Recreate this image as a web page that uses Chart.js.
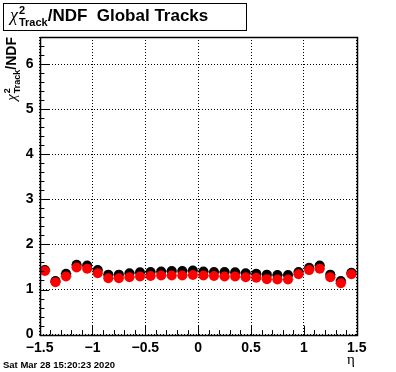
<!DOCTYPE html>
<html>
<head>
<meta charset="utf-8">
<script src="https://cdn.jsdelivr.net/npm/chart.js@4.4.1/dist/chart.umd.min.js"></script>
<style>
  html, body { margin: 0; padding: 0; background: #fff; }
  canvas { display: block; }
</style>
</head>
<body>
<canvas id="chart" width="396" height="372"></canvas>
<script>
// bin centres in eta (30 bins of 0.1)
const etaBins = [-1.45, -1.35, -1.25, -1.15, -1.05, -0.95, -0.85, -0.75, -0.65, -0.55,
                 -0.45, -0.35, -0.25, -0.15, -0.05, 0.05, 0.15, 0.25, 0.35, 0.45,
                 0.55, 0.65, 0.75, 0.85, 0.95, 1.05, 1.15, 1.25, 1.35, 1.45];
const chi2Black = [1.43, 1.19, 1.35, 1.55, 1.53, 1.43, 1.33, 1.33, 1.36, 1.38,
                   1.39, 1.40, 1.41, 1.41, 1.42, 1.40, 1.39, 1.39, 1.38, 1.36,
                   1.35, 1.33, 1.32, 1.32, 1.39, 1.48, 1.53, 1.33, 1.19, 1.37];
const chi2Red = [1.41, 1.16, 1.29, 1.49, 1.46, 1.36, 1.25, 1.25, 1.27, 1.29,
                 1.30, 1.31, 1.31, 1.31, 1.32, 1.31, 1.30, 1.29, 1.29, 1.27,
                 1.26, 1.23, 1.22, 1.22, 1.34, 1.43, 1.46, 1.27, 1.14, 1.34];
const binHalfWidth = 0.05;
const xTicks = [-1.5, -1, -0.5, 0, 0.5, 1, 1.5];
const yTicks = [0, 1, 2, 3, 4, 5, 6];
const xMinorStep = 0.1;
const yMinorStep = 0.2;
const dateText = 'Sat Mar 28 15:20:23 2020';

const MARKER_R = 5;
const FONT = '"Liberation Sans", Arial, Helvetica, sans-serif';

function fmtTick(v) {
    return v < 0 ? '\u2212' + Math.abs(v) : String(v);
}

// draws  chi^2_Track + rest, starting at x (baseline y)
function drawChiTitle(ctx, x, y, size, rest) {
    ctx.font = 'italic ' + (size + 1) + 'px "Liberation Serif", serif';
    ctx.fillText('\u03c7', x, y);
    x += ctx.measureText('\u03c7').width + 1;
    const small = Math.round(size * 0.62);
    ctx.font = 'bold ' + small + 'px ' + FONT;
    ctx.fillText('2', x, y - size * 0.42);
    ctx.fillText('Track', x, y + size * 0.3);
    x += ctx.measureText('Track').width;
    ctx.font = 'bold ' + size + 'px ' + FONT;
    ctx.fillText(rest, x, y);
    return x + ctx.measureText(rest).width;
}

function chiTitleWidth(ctx, size, rest) {
    ctx.font = 'italic ' + (size + 1) + 'px "Liberation Serif", serif';
    let w = ctx.measureText('\u03c7').width + 1;
    ctx.font = 'bold ' + Math.round(size * 0.62) + 'px ' + FONT;
    w += ctx.measureText('Track').width;
    ctx.font = 'bold ' + size + 'px ' + FONT;
    return w + ctx.measureText(rest).width;
}

// horizontal error bars, broken around the marker (ROOT style)
const errorBars = {
    id: 'errorBars',
    beforeDatasetDraw(chart, args) {
        const ctx = chart.ctx;
        const xs = chart.scales.x;
        ctx.save();
        ctx.strokeStyle = '#000';
        ctx.lineWidth = 1.5;
        args.meta.data.forEach((pt, i) => {
            const x0 = xs.getPixelForValue(etaBins[i] - binHalfWidth);
            const x1 = xs.getPixelForValue(etaBins[i] + binHalfWidth);
            ctx.beginPath();
            ctx.moveTo(x0, pt.y);
            ctx.lineTo(pt.x - MARKER_R, pt.y);
            ctx.moveTo(pt.x + MARKER_R, pt.y);
            ctx.lineTo(x1, pt.y);
            ctx.stroke();
        });
        ctx.restore();
    }
};

// frame, inner ticks and texts
const decorations = {
    id: 'decorations',
    afterDraw(chart) {
        const ctx = chart.ctx;
        const a = chart.chartArea;
        const xs = chart.scales.x;
        const ys = chart.scales.y;
        ctx.save();
        ctx.strokeStyle = '#000';
        ctx.lineWidth = 1;

        // ticks on the left axis
        ctx.beginPath();
        for (let v = 0; v <= ys.max + 1e-6; v += yMinorStep) {
            const major = Math.abs(v - Math.round(v)) < 1e-6;
            const py = Math.round(ys.getPixelForValue(v)) + 0.5;
            ctx.moveTo(a.left, py);
            ctx.lineTo(a.left + (major ? 9.5 : 4.8), py);
        }
        // ticks on the bottom axis
        for (let v = xs.min; v <= xs.max + 1e-6; v += xMinorStep) {
            const major = Math.abs(v * 2 - Math.round(v * 2)) < 1e-6;
            const px = Math.round(xs.getPixelForValue(v)) + 0.5;
            ctx.moveTo(px, a.bottom);
            ctx.lineTo(px, a.bottom - (major ? 9 : 4.5));
        }
        ctx.stroke();

        // frame
        ctx.lineWidth = 1.5;
        ctx.strokeRect(Math.round(a.left) + 0.5, Math.round(a.top) + 0.5,
                       Math.round(a.right - a.left), Math.round(a.bottom - a.top));

        // title box
        ctx.lineWidth = 1;
        ctx.fillStyle = '#fff';
        ctx.fillRect(3, 3, 244, 28);
        ctx.strokeRect(3.5, 3.5, 243, 27);
        ctx.fillStyle = '#000';
        ctx.textBaseline = 'alphabetic';
        ctx.textAlign = 'left';
        drawChiTitle(ctx, 10, 21, 17, '/NDF  Global Tracks');

        // y axis title, rotated, aligned to the top of the frame
        ctx.save();
        ctx.translate(16, a.top);
        ctx.rotate(-Math.PI / 2);
        const w = chiTitleWidth(ctx, 14, '/NDF');
        drawChiTitle(ctx, -w, 0, 14, '/NDF');
        ctx.restore();

        // x axis title
        ctx.font = '15px "Liberation Serif", serif';
        ctx.fillText('\u03b7', 347, 364);

        // date stamp
        ctx.font = 'bold 9.5px ' + FONT;
        ctx.fillText(dateText, 3, 368);
        ctx.restore();
    }
};

const tickFont = { family: FONT, size: 14, weight: 'bold' };

new Chart(document.getElementById('chart'), {
    type: 'scatter',
    data: {
        datasets: [
            {
                data: etaBins.map((x, i) => ({ x: x, y: chi2Black[i] })),
                backgroundColor: '#000',
                borderWidth: 0,
                pointRadius: MARKER_R,
                showLine: false,
                order: 2
            },
            {
                data: etaBins.map((x, i) => ({ x: x, y: chi2Red[i] })),
                backgroundColor: '#ff0000',
                borderWidth: 0,
                pointRadius: MARKER_R,
                showLine: false,
                order: 1
            }
        ]
    },
    options: {
        responsive: false,
        animation: false,
        events: [],
        layout: { padding: { left: 0, top: 37, right: 39.3, bottom: 0 } },
        plugins: { legend: { display: false }, tooltip: { enabled: false } },
        scales: {
            x: {
                type: 'linear',
                min: -1.5,
                max: 1.5,
                afterBuildTicks: s => { s.ticks = xTicks.map(v => ({ value: v })); },
                afterFit: s => { s.height = 37.4; },
                grid: { color: '#000', lineWidth: 1, drawTicks: false },
                border: { display: false, dash: [1, 2] },
                ticks: {
                    color: '#000',
                    font: tickFont,
                    padding: 5,
                    maxRotation: 0,
                    autoSkip: false,
                    callback: v => fmtTick(v)
                }
            },
            y: {
                type: 'linear',
                min: 0,
                max: 6.6,
                afterBuildTicks: s => { s.ticks = yTicks.map(v => ({ value: v })); },
                afterFit: s => { s.width = 39.6; },
                grid: { color: '#000', lineWidth: 1, drawTicks: false },
                border: { display: false, dash: [1, 2] },
                ticks: {
                    color: '#000',
                    font: tickFont,
                    padding: 6,
                    autoSkip: false,
                    callback: v => fmtTick(v)
                }
            }
        }
    },
    plugins: [errorBars, decorations]
});
</script>
</body>
</html>
